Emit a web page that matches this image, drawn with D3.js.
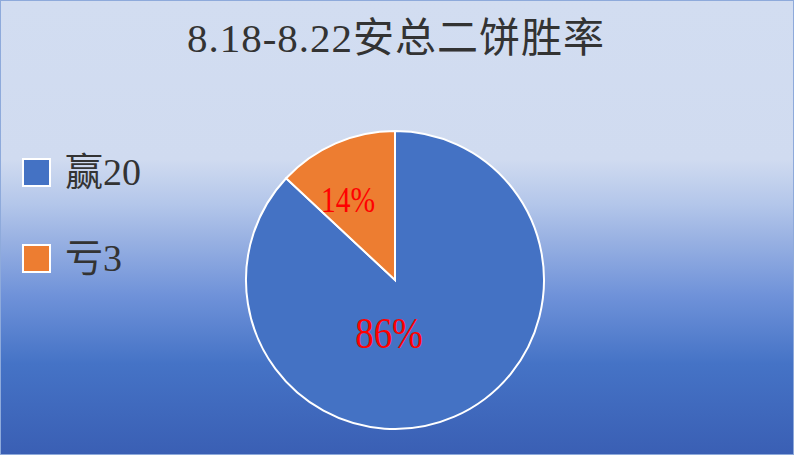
<!DOCTYPE html>
<html>
<head>
<meta charset="utf-8">
<script src="https://cdn.jsdelivr.net/npm/d3@7"></script>
<style>
  html, body { margin: 0; padding: 0; background: #fff; }
  svg { display: block; }
</style>
</head>
<body>
<div id="chart"></div>
<script>
// Chart data
const categories = ["赢", "亏"];
const counts = [20, 3];
const legendLabels = ["赢20", "亏3"];
const pctLabels = ["86%", "14%"];
const colors = ["#4472c4", "#ed7d31"];

const W = 794, H = 455;
const serif = "'Liberation Serif', 'Noto Sans CJK SC', serif";

const svg = d3.select("#chart")
  .append("svg")
    .attr("width", W)
    .attr("height", H);

// Background gradient
const defs = svg.append("defs");
const grad = defs.append("linearGradient")
    .attr("id", "bg")
    .attr("x1", 0).attr("y1", 0)
    .attr("x2", 0).attr("y2", 1);
[[0, "#d2ddf1"], [0.35, "#d0dbf0"], [0.45, "#b3c6ea"], [0.52, "#9bb3e3"],
 [0.65, "#6f92d9"], [0.8, "#4573c6"], [1, "#3a5fb4"]]
  .forEach(([o, c]) => grad.append("stop").attr("offset", o).attr("stop-color", c));

svg.append("rect")
    .attr("x", 0.5).attr("y", 0.5)
    .attr("width", W - 1).attr("height", H - 1)
    .attr("fill", "url(#bg)")
    .attr("stroke", "#8eaadb")
    .attr("stroke-width", 1);

// Title
svg.append("text")
    .attr("x", W / 2 - 1)
    .attr("y", 52)
    .attr("text-anchor", "middle")
    .attr("fill", "#333")
    .style("font-family", serif)
    .style("font-size", "41px")
    .style("letter-spacing", "1px")
    .text("8.18-8.22安总二饼胜率");

// Pie
const cx = 395, cy = 280, r = 149;
const pie = d3.pie().sort(null).value(d => d)(counts);
const arc = d3.arc().innerRadius(0).outerRadius(r);

const g = svg.append("g").attr("transform", `translate(${cx},${cy})`);

g.selectAll("path")
  .data(pie)
  .enter()
  .append("path")
    .attr("d", arc)
    .attr("fill", (d, i) => colors[i])
    .attr("stroke", "#fff")
    .attr("stroke-width", 2);

// Percentage labels
const labelArc = d3.arc().innerRadius(0).outerRadius(180);
const labelSize = [45, 36];
g.selectAll(".pct")
  .data(pie)
  .enter()
  .append("text")
    .attr("class", "pct")
    .attr("transform", (d, i) => {
      const c = i === 0 ? [-6, 52] : [labelArc.centroid(d)[0] - 11, labelArc.centroid(d)[1] + 2];
      return `translate(${c}) scale(0.82,1)`;
    })
    .attr("text-anchor", "middle")
    .attr("dy", "0.35em")
    .attr("fill", "#ff0000")
    .style("font-family", "'Liberation Serif', serif")
    .style("font-size", (d, i) => labelSize[i] + "px")
    .text((d, i) => pctLabels[i]);

// Legend
const legend = svg.append("g");
const rowY = d3.scaleBand().domain(categories).range([159, 331]);
const item = legend.selectAll(".item")
  .data(categories)
  .enter()
  .append("g")
    .attr("transform", d => `translate(23,${rowY(d)})`);

item.append("rect")
    .attr("width", 27).attr("height", 27)
    .attr("fill", (d, i) => colors[i])
    .attr("stroke", "#fff")
    .attr("stroke-width", 2);

item.append("text")
    .attr("x", 42)
    .attr("y", 26)
    .attr("fill", "#333")
    .style("font-family", serif)
    .style("font-size", "38px")
    .text((d, i) => legendLabels[i]);
</script>
</body>
</html>
